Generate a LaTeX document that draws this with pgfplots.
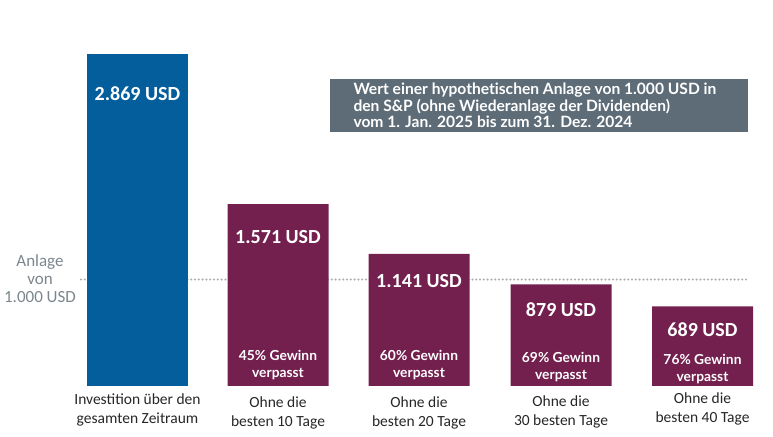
\documentclass[border=0pt]{standalone}
\usepackage{pgfplots}
\pgfplotsset{compat=1.18}
\usepackage{fontspec}
\setmainfont{Carlito}
\newfontfamily\boldf{Lato}[UprightFont=* Bold, Ligatures=CommonOff]
\definecolor{barblue}{HTML}{055E9C}
\definecolor{barpurple}{HTML}{73204F}
\definecolor{boxgray}{HTML}{5D6C77}
\definecolor{lblgray}{HTML}{7B868D}
\definecolor{dotgray}{HTML}{ADADAD}
\begin{document}
\begin{tikzpicture}
\begin{axis}[
  at={(0,0)}, anchor=south west,
  scale only axis, width=773pt, height=436pt,
  xmin=0, xmax=773, ymin=-432.1, ymax=3335.6,
  axis line style={draw=none}, ticks=none, clip=false,
]
\addplot[no marks, sharp plot, dotgray, line width=2.3pt, line cap=round, dash pattern=on 0pt off 3.8pt] coordinates {(81,920) (746,920)};
\addplot[ybar, bar width=101, bar shift=0pt, fill=barblue, draw=none] coordinates {(137.5,2869)};
\addplot[ybar, bar width=101, bar shift=0pt, fill=barpurple, draw=none] coordinates {(278,1571) (419,1141) (561,879) (702.5,689)};
\end{axis}
\begin{scope}[x=1pt, y=-1pt, yshift=436pt]
% left label
\node[lblgray, align=center, font=\fontsize{17}{18}\selectfont] at (40,279) {Anlage\\von\\1.000 USD};
% box
\fill[boxgray] (330,79) rectangle (748,132);
\node[white, anchor=west, align=left, font=\boldf\fontsize{15.6}{16.5}\selectfont] at (350,105.5) {Wert einer hypothetischen Anlage von 1.000 USD in\\den S\&P (ohne Wiederanlage der Dividenden)\\vom 1. Jan. 2025 bis zum 31. Dez. 2024};
% value labels
\tikzset{val/.style={white, font=\bfseries\fontsize{20}{24}\selectfont}, pct/.style={white, align=center, font=\boldf\fontsize{13.8}{17.5}\selectfont}, cat/.style={black!85, align=center, font=\fontsize{15.5}{18.5}\selectfont}}
\node[val] at (137.5,94) {2.869 USD};
\node[val] at (278,237) {1.571 USD};
\node[val] at (419,281) {1.141 USD};
\node[val] at (561,310) {879 USD};
\node[val] at (702.5,330) {689 USD};
\node[pct] at (278,365) {45\% Gewinn\\verpasst};
\node[pct] at (419,365) {60\% Gewinn\\verpasst};
\node[pct] at (561,367) {69\% Gewinn\\verpasst};
\node[pct] at (702.5,369) {76\% Gewinn\\verpasst};
\node[cat] at (137.5,410) {Investition über den\\gesamten Zeitraum};
\node[cat] at (278,413) {Ohne die\\besten 10 Tage};
\node[cat] at (419,413) {Ohne die\\besten 20 Tage};
\node[cat] at (561,412) {Ohne die\\30 besten Tage};
\node[cat] at (702.5,409) {Ohne die\\besten 40 Tage};
\end{scope}
\end{tikzpicture}
\end{document}
